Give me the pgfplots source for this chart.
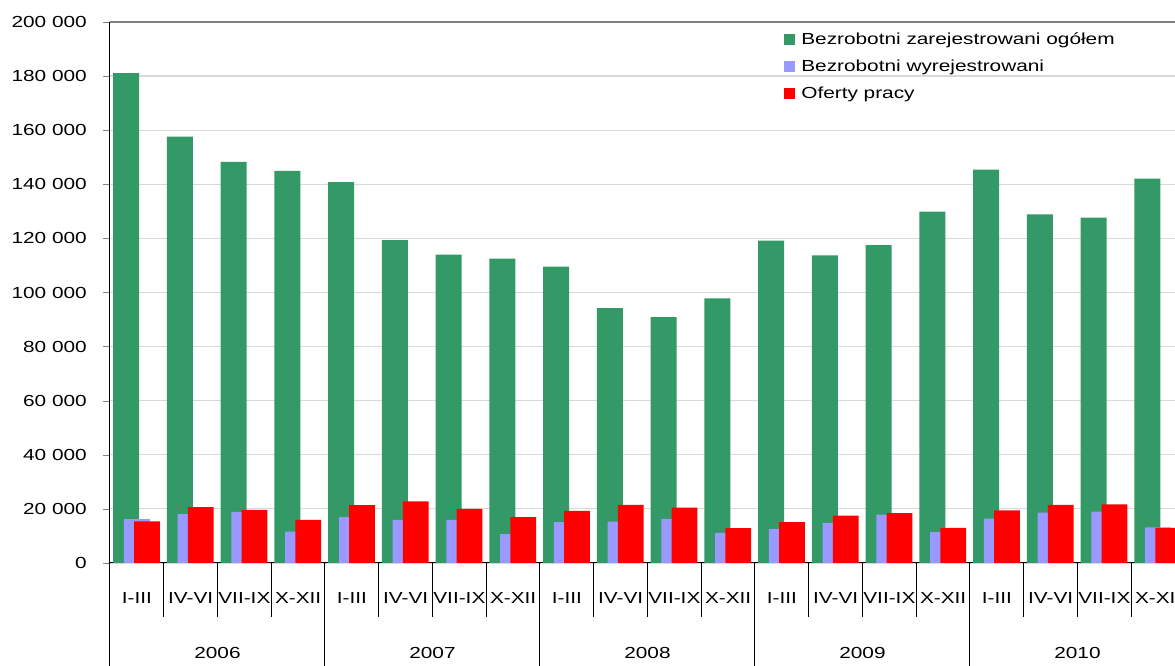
\documentclass[border=0pt]{standalone}
\usepackage{fontspec}
\setmainfont[FakeStretch=1.3]{Liberation Sans}
\usepackage{pgfplots}
\pgfplotsset{compat=1.18}
\definecolor{cGreen}{HTML}{339966}
\definecolor{cPurple}{HTML}{9999FF}
\definecolor{cRed}{HTML}{FF0000}
\definecolor{cGrid}{HTML}{D9D9D9}
\newcommand{\chartfont}{\fontsize{16pt}{19pt}\selectfont}
\begin{document}
\begin{tikzpicture}
\begin{axis}[
  scale only axis, width=1065pt, height=541pt,
  xmin=-0.5, xmax=19.314, ymin=0, ymax=200000,
  axis x line*=bottom, axis y line*=left,
  axis line style={black, line width=1pt},
  ytick={0,20000,...,200000},
  scaled y ticks=false,
  tick align=outside, major tick length=7pt,
  /pgf/number format/.cd, fixed, precision=0, 1000 sep={\ }, assume math mode=true,
  /pgfplots/.cd,
  yticklabel style={font=\chartfont, inner sep=0pt, xshift=-16pt},
  ymajorgrids, grid style={cGrid, line width=1.2pt},
  xtick={0,...,19},
  xticklabels={I-III,IV-VI,VII-IX,X-XII,I-III,IV-VI,VII-IX,X-XII,I-III,IV-VI,VII-IX,X-XII,I-III,IV-VI,VII-IX,X-XII,I-III,IV-VI,VII-IX,X-XII},
  xtick style={draw=none},
  xticklabel style={font=\chartfont, anchor=center},
  xticklabel shift=28pt,
  ybar, bar width=0.48,
  legend style={at={(0.633,0.984)}, anchor=north west, draw=none, fill=none,
    font=\chartfont, row sep=10pt, inner sep=0pt},
  legend cell align=left,
  legend image code/.code={\fill[#1] (0pt,-5.5pt) rectangle (11pt,5.5pt); \path (15pt,0pt);},
  clip=false,
]
\addplot[fill=cGreen, draw=none, bar shift=-0.2] coordinates {
(0,181100) (1,157600) (2,148300) (3,145000)
(4,140800) (5,119400) (6,114000) (7,112500)
(8,109600) (9,94200) (10,90900) (11,97800)
(12,119200) (13,113700) (14,117500) (15,129900)
(16,145400) (17,128900) (18,127700) (19,142100)};
\addplot[fill=cPurple, draw=none, bar shift=0] coordinates {
(0,16200) (1,18100) (2,18900) (3,11600)
(4,17000) (5,15900) (6,15900) (7,10700)
(8,15100) (9,15300) (10,16300) (11,11100)
(12,12600) (13,14800) (14,17900) (15,11500)
(16,16400) (17,18600) (18,19000) (19,13200)};
\addplot[fill=cRed, draw=none, bar shift=0.19] coordinates {
(0,15400) (1,20700) (2,19600) (3,15900)
(4,21400) (5,22800) (6,20000) (7,17000)
(8,19300) (9,21500) (10,20500) (11,12900)
(12,15100) (13,17500) (14,18400) (15,13000)
(16,19500) (17,21500) (18,21700) (19,13000)};
\legend{Bezrobotni zarejestrowani ogółem, Bezrobotni wyrejestrowani, Oferty pracy}
\draw[gray, line width=1.5pt] (rel axis cs:0,1) -- (rel axis cs:1,1);
\pgfplotsinvokeforeach{0.5,1.5,2.5,4.5,5.5,6.5,8.5,9.5,10.5,12.5,13.5,14.5,16.5,17.5,18.5}{
  \draw[black, line width=1pt] (axis cs:#1,0) -- ++(0pt,-54pt);}
\pgfplotsinvokeforeach{-0.5,3.5,7.5,11.5,15.5}{
  \draw[black, line width=1pt] (axis cs:#1,0) -- ++(0pt,-103pt);}
\node[font=\chartfont] at ([yshift=-90pt]axis cs:1.5,0) {2006};
\node[font=\chartfont] at ([yshift=-90pt]axis cs:5.5,0) {2007};
\node[font=\chartfont] at ([yshift=-90pt]axis cs:9.5,0) {2008};
\node[font=\chartfont] at ([yshift=-90pt]axis cs:13.5,0) {2009};
\node[font=\chartfont] at ([yshift=-90pt]axis cs:17.5,0) {2010};
\end{axis}
\pgfresetboundingbox
\useasboundingbox (-110pt,-103pt) rectangle (1065pt,563pt);
\end{tikzpicture}
\end{document}
